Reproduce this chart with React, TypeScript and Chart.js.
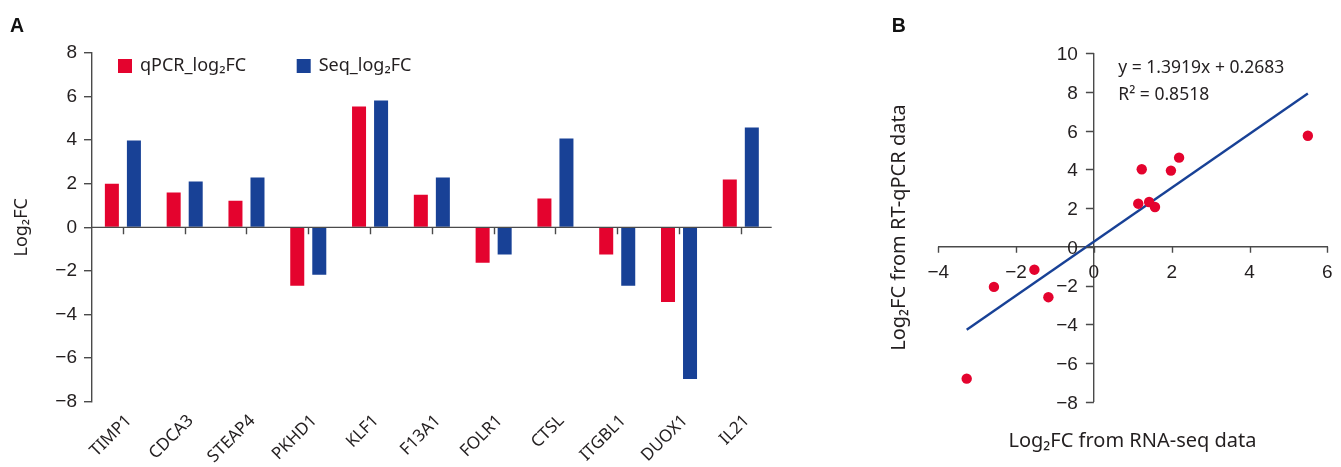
import React, { useEffect, useRef } from "react";
import { Chart, registerables } from "chart.js";

Chart.register(...registerables);

// ---- Panel A data ----
const genes = ["TIMP1", "CDCA3", "STEAP4", "PKHD1", "KLF1", "F13A1", "FOLR1", "CTSL", "ITGBL1", "DUOX1", "IL21"];
const qpcrLog2FC = [2.0, 1.6, 1.22, -2.68, 5.55, 1.5, -1.62, 1.32, -1.25, -3.42, 2.2];
const seqLog2FC = [3.98, 2.1, 2.29, -2.17, 5.82, 2.29, -1.25, 4.08, -2.68, -6.96, 4.58];
const seriesNames = ["qPCR_log\u2082FC", "Seq_log\u2082FC"];

// ---- Panel B data ----
const rnaSeqX = [1.23, 1.14, 1.42, 1.57, 1.98, 2.19, 5.5, -1.53, -2.57, -1.17, -3.27];
const rtqpcrY = [4.01, 2.23, 2.32, 2.06, 3.94, 4.61, 5.74, -1.18, -2.07, -2.6, -6.81];
const fitSlope = 1.3919;
const fitIntercept = 0.2683;
const fitRangeX = [-3.27, 5.5];
const equationText = "y = 1.3919x + 0.2683";
const r2Text = "R\u00b2 = 0.8518";

const RED = "#E4032E";
const BLUE = "#184196";
const AXIS = "#4a4a4a";
const TEXT = "#231f20";
const TICK_FONT = "'Liberation Sans', Arial, sans-serif";
const LABEL_FONT = "'Noto Sans', sans-serif";
const TICK_SIZE = 19;

const minus = (v: any) => String(v).replace("-", "\u2212");

const W_A = 830;
const H = 467;
const LEFT_B = 860;
const W_B = 1341 - LEFT_B;

function BarPanel() {
  const ref = useRef<HTMLCanvasElement>(null);
  useEffect(() => {
    const overlay = {
      id: "overlayA",
      afterDatasetsDraw(chart: any) {
        const { ctx, chartArea, scales } = chart;
        const y0 = scales.y.getPixelForValue(0);
        ctx.save();
        ctx.strokeStyle = AXIS;
        ctx.lineWidth = 1.4;
        ctx.beginPath();
        ctx.moveTo(chartArea.left, y0);
        ctx.lineTo(chartArea.right, y0);
        chart.data.labels.forEach((_: any, i: number) => {
          const px = Math.round(scales.x.getPixelForValue(i)) + 0.5;
          ctx.moveTo(px, y0);
          ctx.lineTo(px, y0 + 7);
        });
        ctx.stroke();
        // legend inside plot area
        ctx.font = `18px ${LABEL_FONT}`;
        ctx.textBaseline = "middle";
        const offs = [26, 204.7];
        chart.data.datasets.forEach((ds: any, i: number) => {
          const bx = chartArea.left + offs[i];
          const by = chartArea.top + 6;
          ctx.fillStyle = ds.backgroundColor;
          ctx.fillRect(bx, by, 14, 14);
          ctx.fillStyle = TEXT;
          ctx.fillText(ds.label, bx + 22, by + 7);
        });
        // panel letter
        ctx.font = `bold 19.5px ${TICK_FONT}`;
        ctx.textBaseline = "alphabetic";
        ctx.fillStyle = "#111";
        ctx.fillText("A", 10, 32);
        ctx.restore();
      },
    };
    const chart = new Chart(ref.current!, {
      type: "bar",
      data: {
        labels: genes,
        datasets: [
          { label: seriesNames[0], data: qpcrLog2FC, backgroundColor: RED, categoryPercentage: 0.713, barPercentage: 0.636 },
          { label: seriesNames[1], data: seqLog2FC, backgroundColor: BLUE, categoryPercentage: 0.713, barPercentage: 0.636 },
        ],
      },
      options: {
        animation: false,
        responsive: false,
        maintainAspectRatio: false,
        layout: { padding: { left: 0, top: 53, right: W_A - 771.7, bottom: 0 } },
        plugins: { legend: { display: false }, tooltip: { enabled: false } },
        scales: {
          x: {
            type: "category",
            grid: { display: false, drawTicks: false },
            border: { display: false },
            ticks: {
              autoSkip: false,
              maxRotation: 45,
              minRotation: 45,
              padding: 9,
              labelOffset: 6,
              color: TEXT,
              font: { family: LABEL_FONT, size: 17 },
            },
            afterFit: (s: any) => { s.height = H - 401.7; },
          },
          y: {
            min: -8,
            max: 8,
            ticks: {
              stepSize: 2,
              padding: 7,
              color: TEXT,
              font: { family: TICK_FONT, size: TICK_SIZE },
              callback: (v: any) => minus(v),
            },
            grid: { drawOnChartArea: false, tickLength: 8, tickColor: AXIS, lineWidth: 1.4 },
            border: { color: AXIS, width: 1.4 },
            title: {
              display: true,
              text: "Log\u2082FC",
              color: TEXT,
              font: { family: LABEL_FONT, size: 18 },
              padding: { top: 11, bottom: 0 },
            },
            afterFit: (s: any) => { s.width = 92; },
          },
        },
      },
      plugins: [overlay],
    } as any);
    return () => chart.destroy();
  }, []);
  return <canvas ref={ref} width={W_A} height={H} style={{ position: "absolute", left: 0, top: 0, width: W_A, height: H }} />;
}

function ScatterPanel() {
  const ref = useRef<HTMLCanvasElement>(null);
  useEffect(() => {
    const overlay = {
      id: "overlayB",
      afterDraw(chart: any) {
        const { ctx, scales } = chart;
        const x0 = scales.x.getPixelForValue(0) ;
        const y0 = scales.y.getPixelForValue(0);
        ctx.save();
        // tick marks and labels of the crossing axes
        ctx.strokeStyle = AXIS;
        ctx.lineWidth = 1.4;
        ctx.beginPath();
        scales.x.ticks.forEach((t: any) => {
          const px = Math.round(scales.x.getPixelForValue(t.value)) + 0.5;
          ctx.moveTo(px, y0);
          ctx.lineTo(px, y0 + 6);
        });
        scales.y.ticks.forEach((t: any) => {
          const py = Math.round(scales.y.getPixelForValue(t.value)) + 0.5;
          ctx.moveTo(x0, py);
          ctx.lineTo(x0 - 8, py);
        });
        ctx.stroke();
        ctx.fillStyle = TEXT;
        ctx.font = `${TICK_SIZE}px ${TICK_FONT}`;
        ctx.textBaseline = "alphabetic";
        ctx.textAlign = "center";
        scales.x.ticks.forEach((t: any) => {
          ctx.fillText(minus(t.value), scales.x.getPixelForValue(t.value), y0 + 31);
        });
        ctx.textAlign = "right";
        scales.y.ticks.forEach((t: any) => {
          ctx.fillText(minus(t.value), x0 - 16, scales.y.getPixelForValue(t.value) + 6.8);
        });
        // regression annotation
        ctx.font = `17.5px ${LABEL_FONT}`;
        ctx.textAlign = "left";
        ctx.fillText(equationText, 1118.3 - LEFT_B, 73.3);
        ctx.fillText(r2Text, 1118.3 - LEFT_B, 100);
        // axis titles
        ctx.font = `20px ${LABEL_FONT}`;
        ctx.textAlign = "center";
        ctx.textBaseline = "middle";
        ctx.fillText("Log\u2082FC from RNA-seq data", 1132.5 - LEFT_B, 441.7);
        ctx.translate(899 - LEFT_B, 227.5);
        ctx.rotate(-Math.PI / 2);
        ctx.fillText("Log\u2082FC from RT-qPCR data", 0, 0);
        ctx.restore();
        ctx.save();
        ctx.font = `bold 19.5px ${TICK_FONT}`;
        ctx.fillStyle = "#111";
        ctx.fillText("B", 891.7 - LEFT_B, 32);
        ctx.restore();
      },
    };
    const pts = rnaSeqX.map((x, i) => ({ x, y: rtqpcrY[i] }));
    const fit = fitRangeX.map((x) => ({ x, y: fitSlope * x + fitIntercept }));
    const chart = new Chart(ref.current!, {
      type: "scatter",
      data: {
        datasets: [
          { data: pts, backgroundColor: RED, borderWidth: 0, pointRadius: 5.2 },
          { type: "line", data: fit, borderColor: BLUE, borderWidth: 2.4, pointRadius: 0, showLine: true, fill: false },
        ],
      },
      options: {
        animation: false,
        responsive: false,
        maintainAspectRatio: false,
        layout: { padding: { left: 938.3 - LEFT_B, top: 53.3, right: W_B - 1327.3 + LEFT_B, bottom: H - 401.7 } },
        plugins: { legend: { display: false }, tooltip: { enabled: false } },
        scales: {
          x: {
            type: "linear",
            position: { y: 0 },
            min: -4,
            max: 6,
            ticks: { stepSize: 2, display: false },
            grid: { display: false },
            border: { display: true, color: AXIS, width: 1.4 },
          },
          y: {
            type: "linear",
            position: { x: 0 },
            min: -8,
            max: 10,
            ticks: { stepSize: 2, display: false },
            grid: { display: false },
            border: { display: true, color: AXIS, width: 1.4 },
          },
        },
      },
      plugins: [overlay],
    } as any);
    return () => chart.destroy();
  }, []);
  return <canvas ref={ref} width={W_B} height={H} style={{ position: "absolute", left: LEFT_B, top: 0, width: W_B, height: H }} />;
}

export default function App() {
  useEffect(() => {
    document.body.style.margin = "0";
    document.body.style.background = "#fff";
  }, []);
  return (
    <div style={{ position: "relative", width: 1341, height: H, background: "#fff", overflow: "hidden" }}>
      <BarPanel />
      <ScatterPanel />
    </div>
  );
}
